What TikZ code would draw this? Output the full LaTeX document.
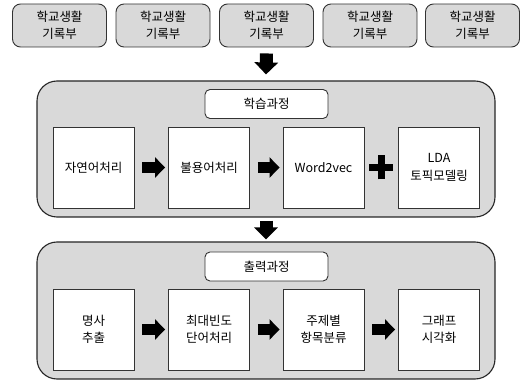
\documentclass[tikz,border=0pt]{standalone}
\usepackage{fontspec}
\newfontfamily\kr{Noto Sans CJK KR}
\usetikzlibrary{arrows.meta,calc}
\definecolor{boxgray}{HTML}{D9D9D9}
\definecolor{edgegray}{HTML}{333333}
\tikzset{
  srcbox/.style={draw=edgegray, line width=0.9pt, fill=boxgray, rounded corners=8pt,
    minimum width=94pt, minimum height=43pt, inner sep=0pt, align=center,
    font=\kr\fontsize{12.5}{16.5}\selectfont},
  panel/.style={draw=black!85, line width=1.1pt, fill=boxgray, rounded corners=20pt,
    minimum width=458pt, inner sep=0pt},
  labelbox/.style={draw=edgegray, line width=0.9pt, fill=white, rounded corners=5pt,
    minimum width=123pt, minimum height=29pt, inner sep=0pt,
    font=\kr\fontsize{12.5}{16.5}\selectfont},
  stepbox/.style={draw=edgegray, line width=0.9pt, fill=white,
    minimum width=81pt, minimum height=81pt, inner sep=0pt, align=center,
    font=\kr\fontsize{12.5}{17.5}\selectfont},
  rightarrow/.style={line width=11pt, draw=black, -{Triangle[length=10pt,width=20pt]}},
  downarrow/.style={line width=13pt, draw=black, -{Triangle[length=12pt,width=23pt]}},
  plusbar/.style={line width=7.5pt, draw=black}
}
\begin{document}
\begin{tikzpicture}[x=1pt,y=-1pt]
\useasboundingbox (0,0) rectangle (520,382);
% top source boxes
\node[srcbox] (s1) at (59.5,25.5) {학교생활\\기록부};
\node[srcbox] (s2) at (163,25.5) {학교생활\\기록부};
\node[srcbox] (s3) at (266.5,25.5) {학교생활\\기록부};
\node[srcbox] (s4) at (370,25.5) {학교생활\\기록부};
\node[srcbox] (s5) at (472.5,25.5) {학교생활\\기록부};
% panel 1
\node[panel, minimum height=136pt] (p1) at (266,149) {};
\node[labelbox] (l1) at (266.5,104) {학습과정};
\node[stepbox] (a1) at (93.5,167.5) {자연어처리};
\node[stepbox] (a2) at (209,167.5) {불용어처리};
\node[stepbox] (a3) at (323.5,167.5) {Word2vec};
\node[stepbox] (a4) at (439,167.5) {LDA\\토픽모델링};
% panel 2
\node[panel, minimum height=137pt] (p2) at (266,310.5) {};
\node[labelbox] (l2) at (266.5,266.5) {출력과정};
\node[stepbox] (b1) at (93.5,329.5) {명사\\추출};
\node[stepbox] (b2) at (209,329.5) {최대빈도\\단어처리};
\node[stepbox] (b3) at (323.5,329.5) {주제별\\항목분류};
\node[stepbox] (b4) at (439,329.5) {그래프\\시각화};
% down arrows
\draw[downarrow] ([yshift=-6]s3.south) -- ([yshift=6]p1.north);
\draw[downarrow] ([yshift=-3]p1.south) -- ([yshift=2]p2.north);
% right arrows in panel 1
\draw[rightarrow] ([xshift=8]a1.east) -- ([xshift=-3]a2.west);
\draw[rightarrow] ([xshift=8]a2.east) -- ([xshift=-3]a3.west);
% plus
\coordinate (pc) at ($(a3.east)!0.5!(a4.west)$);
\draw[plusbar] ([xshift=-12]pc) -- ([xshift=12]pc);
\draw[plusbar] ([yshift=-12]pc) -- ([yshift=12]pc);
% right arrows in panel 2
\draw[rightarrow] ([xshift=8]b1.east) -- ([xshift=-3]b2.west);
\draw[rightarrow] ([xshift=8]b2.east) -- ([xshift=-3]b3.west);
\draw[rightarrow] ([xshift=8]b3.east) -- ([xshift=-3]b4.west);
\end{tikzpicture}
\end{document}
